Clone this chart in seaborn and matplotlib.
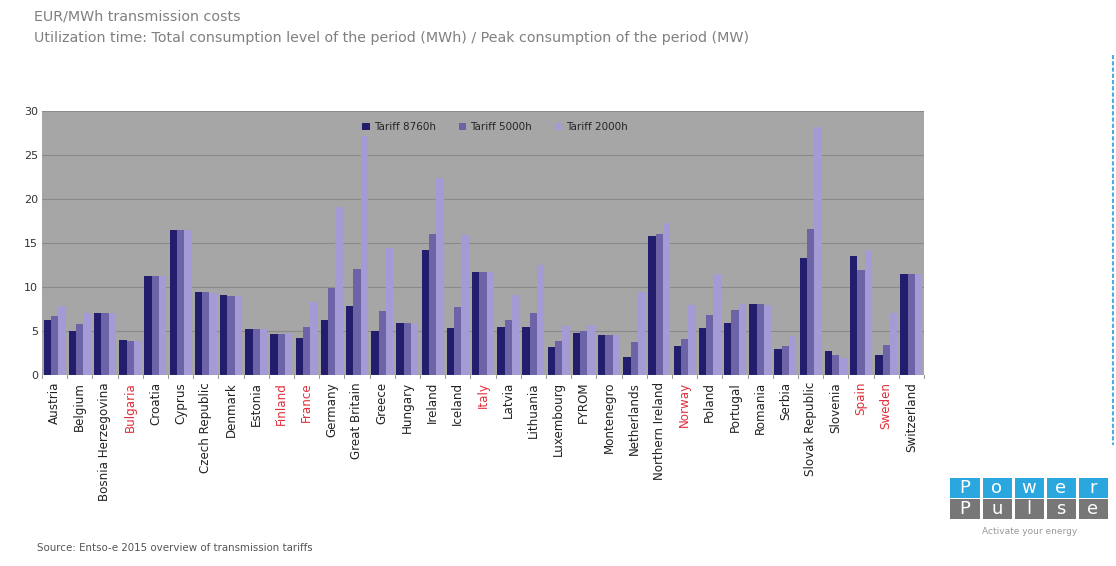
import pandas as pd
import matplotlib.pyplot as plt
from matplotlib.patches import Rectangle
from matplotlib.lines import Line2D
import seaborn as sns

# countries along the x axis
countries = ['Austria', 'Belgium', 'Bosnia Herzegovina', 'Bulgaria', 'Croatia', 'Cyprus',
             'Czech Republic', 'Denmark', 'Estonia', 'Finland', 'France', 'Germany',
             'Great Britain', 'Greece', 'Hungary', 'Ireland', 'Iceland', 'Italy', 'Latvia',
             'Lithuania', 'Luxembourg', 'FYROM', 'Montenegro', 'Netherlands',
             'Northern Ireland', 'Norway', 'Poland', 'Portugal', 'Romania', 'Serbia',
             'Slovak Republic', 'Slovenia', 'Spain', 'Sweden', 'Switzerland']
red_countries = ['Bulgaria', 'Finland', 'France', 'Italy', 'Norway', 'Spain', 'Sweden']

# EUR/MWh values
tariff_8760 = [6.3, 5.0, 7.1, 4.0, 11.2, 16.5, 9.4, 9.1, 5.2, 4.7, 4.2, 6.3,
               7.8, 5.0, 5.9, 14.2, 5.3, 11.7, 5.4, 5.4, 3.2, 4.8, 4.6, 2.1,
               15.8, 3.3, 5.3, 5.9, 8.1, 3.0, 13.3, 2.7, 13.5, 2.3, 11.5]
tariff_5000 = [6.7, 5.8, 7.1, 3.9, 11.2, 16.5, 9.4, 9.0, 5.2, 4.7, 5.4, 9.9,
               12.0, 7.3, 5.9, 16.0, 7.7, 11.7, 6.2, 7.0, 3.9, 5.0, 4.6, 3.7,
               16.0, 4.1, 6.8, 7.4, 8.1, 3.35, 16.6, 2.3, 11.9, 3.4, 11.5]
tariff_2000 = [7.8, 7.0, 7.0, 3.9, 11.2, 16.5, 9.3, 9.0, 5.2, 4.8, 8.3, 19.1,
               27.2, 14.4, 5.8, 22.4, 15.9, 11.7, 9.1, 12.5, 5.6, 5.7, 4.6, 9.4,
               17.3, 8.0, 11.5, 8.1, 8.0, 4.4, 28.2, 1.9, 14.2, 7.0, 11.5]
series = ['Tariff 8760h', 'Tariff 5000h', 'Tariff 2000h']

df = pd.DataFrame({'Country': countries * 3,
                   'Tariff': [s for s in series for _ in countries],
                   'Cost': tariff_8760 + tariff_5000 + tariff_2000})

sns.set_theme(style='white')
plt.rcParams['font.family'] = ['DejaVu Sans']

fig = plt.figure(figsize=(11.16, 5.66), dpi=100)
ax = fig.add_axes([42 / 1116, 1 - 375 / 566, 882 / 1116, 264 / 566])

palette = {'Tariff 8760h': '#221d6c', 'Tariff 5000h': '#6d64a8', 'Tariff 2000h': '#a39ad6'}
sns.barplot(data=df, x='Country', y='Cost', hue='Tariff', palette=palette,
            width=0.88, saturation=1, linewidth=0, edgecolor='none', ax=ax, zorder=3)

ax.set_facecolor('#a6a6a6')
ax.set_ylim(0, 30)
ax.set_xlim(-0.5, len(countries) - 0.5)
ax.set_yticks(range(0, 31, 5))
ax.yaxis.grid(True, color='#8a8a8a', linewidth=0.8, zorder=0)
ax.set_axisbelow(True)
for s in ax.spines.values():
    s.set_visible(False)
ax.set_xlabel('')
ax.set_ylabel('')

ax.set_xticks(range(len(countries)))
ax.set_xticklabels(countries, rotation=90, fontsize=8.6)
ax.tick_params(axis='x', length=0, pad=5)
ax.tick_params(axis='y', length=0, pad=3, labelsize=8, labelcolor='#333333')
for lbl in ax.get_xticklabels():
    lbl.set_color('#e0303a' if lbl.get_text() in red_countries else '#222222')

# small separators below the axis between categories
for i in range(len(countries) + 1):
    ax.plot([i - 0.5, i - 0.5], [0, -0.35], color='#9a9a9a', linewidth=0.8,
            clip_on=False, zorder=4)
ax.axhline(0, color='#9a9a9a', linewidth=0.8, zorder=4)

ax.legend(loc='center', bbox_to_anchor=(0.514, 0.94), ncol=3, frameon=False,
          fontsize=7.5, handlelength=0.7, handleheight=0.7, handletextpad=0.4,
          columnspacing=2.2, title=None)

# header and source
fig.text(34 / 1116, 1 - 17 / 566, 'EUR/MWh transmission costs', fontsize=10.3,
         color='#808080', va='center', ha='left')
fig.text(34 / 1116, 1 - 38 / 566,
         'Utilization time: Total consumption level of the period (MWh) / Peak consumption of the period (MW)',
         fontsize=10.3, color='#808080', va='center', ha='left')
fig.text(37 / 1116, 1 - 548 / 566, 'Source: Entso-e 2015 overview of transmission tariffs',
         fontsize=7.4, color='#555555', va='center', ha='left')

# logo
top_letters = ['P', 'o', 'w', 'e', 'r']
bottom_letters = ['P', 'u', 'l', 's', 'e']
bw, gap = 32, 1.5
for i in range(5):
    x0 = 949 + i * bw
    for row, (col, letters) in enumerate([('#2aa7df', top_letters), ('#777777', bottom_letters)]):
        y0 = 478 + row * 21
        fig.add_artist(Rectangle(((x0 + gap) / 1116, 1 - (y0 + 20) / 566),
                                 (bw - 2 * gap) / 1116, 20 / 566,
                                 transform=fig.transFigure, color=col, lw=0))
        fig.text((x0 + bw / 2) / 1116, 1 - (y0 + 10) / 566, letters[i], color='white',
                 fontsize=13, ha='center', va='center')
fig.text(1030 / 1116, 1 - 531 / 566, 'Activate your energy', fontsize=6.5,
         color='#999999', ha='center', va='center')

# dashed border on the right
fig.add_artist(Line2D([1113 / 1116, 1113 / 1116], [1 - 55 / 566, 1 - 445 / 566],
                      transform=fig.transFigure, color='#4aaede', linewidth=1.5,
                      linestyle=(0, (2, 1))))

fig.savefig('out.png', dpi=100)
